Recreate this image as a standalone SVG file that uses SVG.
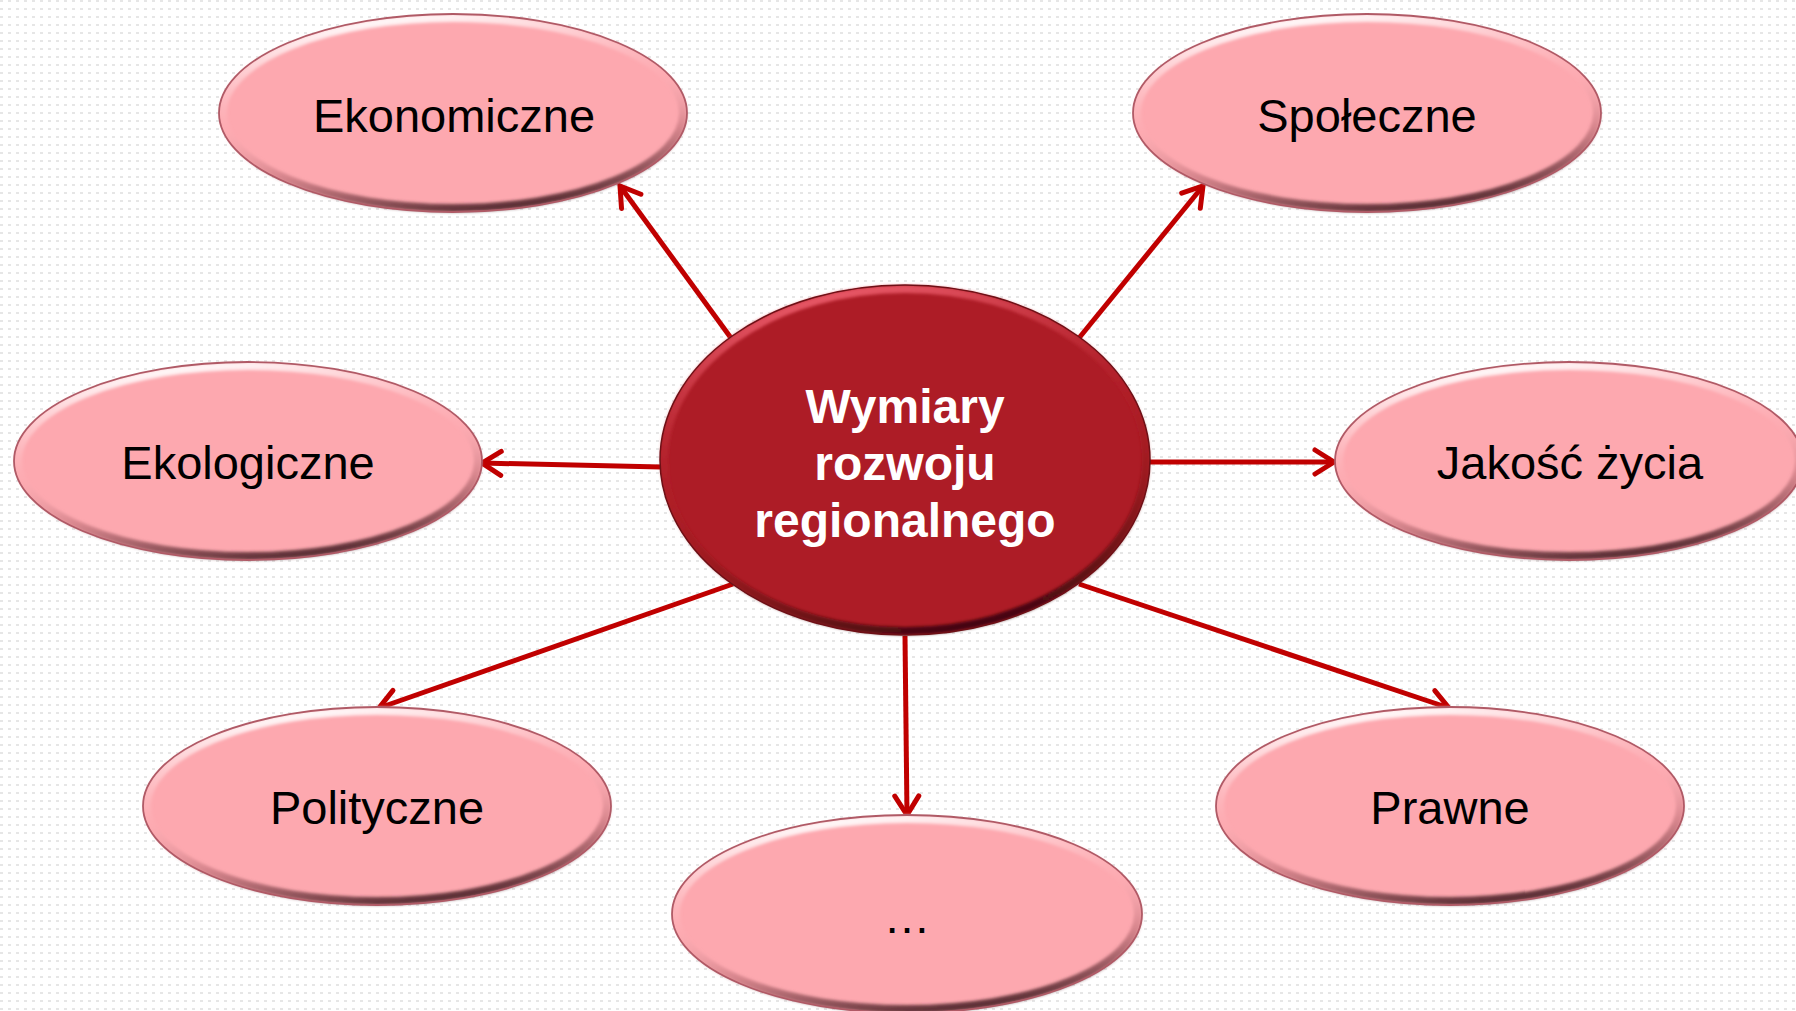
<svg xmlns="http://www.w3.org/2000/svg" width="1796" height="1011" viewBox="0 0 1796 1011">
<style>
.bg{fill:url(#dots)}
.pink{fill:#FDA8AF}
.pinkrim{fill:none;stroke:#B05A66;stroke-width:1.8}
.bevel{fill:none;stroke:url(#bev);stroke-width:8;filter:url(#soft)}
.core{fill:#AD1C26}
.corerim{fill:none;stroke:#6E1016;stroke-width:1.5}
.corebevel{fill:none;stroke:url(#bevCore);stroke-width:8;filter:url(#soft)}
.lbl{font-family:"Liberation Sans",Arial,sans-serif;font-size:47px;fill:#000;text-anchor:middle}
.clbl{font-family:"Liberation Sans",Arial,sans-serif;font-size:48px;font-weight:bold;fill:#fff;text-anchor:middle}
.conn{stroke:#C00000;stroke-width:5;fill:none;marker-end:url(#arr)}
</style>
<defs>
<pattern id="dots" width="8" height="8" patternUnits="userSpaceOnUse">
<rect x="0" y="0" width="3" height="2" fill="#E6E6E6"/>
</pattern>
<linearGradient id="bev" x1="0.35" y1="0" x2="0.65" y2="1">
<stop offset="0" stop-color="#FFFFFF" stop-opacity="0.95"/>
<stop offset="0.45" stop-color="#FDB5BB" stop-opacity="0.2"/>
<stop offset="0.7" stop-color="#C07078" stop-opacity="0.6"/>
<stop offset="1" stop-color="#4A2228" stop-opacity="0.95"/>
</linearGradient>
<linearGradient id="bevCore" x1="0.35" y1="0" x2="0.65" y2="1">
<stop offset="0" stop-color="#F06070" stop-opacity="0.9"/>
<stop offset="0.45" stop-color="#B8222C" stop-opacity="0.2"/>
<stop offset="0.7" stop-color="#801018" stop-opacity="0.5"/>
<stop offset="1" stop-color="#300608" stop-opacity="0.9"/>
</linearGradient>
<filter id="soft" x="-5%" y="-5%" width="110%" height="110%">
<feGaussianBlur stdDeviation="1.6"/>
</filter>
<marker id="arr" markerUnits="userSpaceOnUse" markerWidth="34" markerHeight="34" refX="23" refY="14" orient="auto" viewBox="0 0 34 28">
<path d="M4,2 L23,14 L4,26" fill="none" stroke="#C00000" stroke-width="5" stroke-linecap="round" stroke-linejoin="miter"/>
</marker>
</defs>
<rect class="bg" x="0" y="0" width="1796" height="1011"/>
<g id="connectors">
<line class="conn" x1="731" y1="338" x2="620" y2="186"/>
<line class="conn" x1="1079" y1="338" x2="1203" y2="186"/>
<line class="conn" x1="661" y1="467" x2="482" y2="463"/>
<line class="conn" x1="1149" y1="462" x2="1334" y2="462"/>
<line class="conn" x1="733" y1="584" x2="379" y2="708"/>
<line class="conn" x1="905" y1="636" x2="907" y2="815"/>
<line class="conn" x1="1079" y1="584" x2="1449" y2="708"/>
</g>
<g id="node-ekonomiczne">
<ellipse class="pink" cx="453" cy="113" rx="234" ry="99"/>
<ellipse class="bevel" cx="453" cy="113" rx="230" ry="95"/>
<ellipse class="pinkrim" cx="453" cy="113" rx="234" ry="99"/>
<text class="lbl" x="454" y="132">Ekonomiczne</text>
</g>
<g id="node-spoleczne">
<ellipse class="pink" cx="1367" cy="113" rx="234" ry="99"/>
<ellipse class="bevel" cx="1367" cy="113" rx="230" ry="95"/>
<ellipse class="pinkrim" cx="1367" cy="113" rx="234" ry="99"/>
<text class="lbl" x="1367" y="132">Społeczne</text>
</g>
<g id="node-ekologiczne">
<ellipse class="pink" cx="248" cy="461" rx="234" ry="99"/>
<ellipse class="bevel" cx="248" cy="461" rx="230" ry="95"/>
<ellipse class="pinkrim" cx="248" cy="461" rx="234" ry="99"/>
<text class="lbl" x="248" y="479">Ekologiczne</text>
</g>
<g id="node-jakosc">
<ellipse class="pink" cx="1569" cy="461" rx="234" ry="99"/>
<ellipse class="bevel" cx="1569" cy="461" rx="230" ry="95"/>
<ellipse class="pinkrim" cx="1569" cy="461" rx="234" ry="99"/>
<text class="lbl" x="1570" y="479">Jakość życia</text>
</g>
<g id="node-polityczne">
<ellipse class="pink" cx="377" cy="806" rx="234" ry="99"/>
<ellipse class="bevel" cx="377" cy="806" rx="230" ry="95"/>
<ellipse class="pinkrim" cx="377" cy="806" rx="234" ry="99"/>
<text class="lbl" x="377" y="824">Polityczne</text>
</g>
<g id="node-prawne">
<ellipse class="pink" cx="1450" cy="806" rx="234" ry="99"/>
<ellipse class="bevel" cx="1450" cy="806" rx="230" ry="95"/>
<ellipse class="pinkrim" cx="1450" cy="806" rx="234" ry="99"/>
<text class="lbl" x="1450" y="824">Prawne</text>
</g>
<g id="node-more">
<ellipse class="pink" cx="907" cy="914" rx="235" ry="99"/>
<ellipse class="bevel" cx="907" cy="914" rx="231" ry="95"/>
<ellipse class="pinkrim" cx="907" cy="914" rx="235" ry="99"/>
<text class="lbl" x="907" y="933">…</text>
</g>
<g id="node-center">
<ellipse class="core" cx="905" cy="460" rx="245" ry="175"/>
<ellipse class="corebevel" cx="905" cy="460" rx="241" ry="171"/>
<ellipse class="corerim" cx="905" cy="460" rx="245" ry="175"/>
<text class="clbl" x="905" y="423">Wymiary</text>
<text class="clbl" x="905" y="480">rozwoju</text>
<text class="clbl" x="905" y="537">regionalnego</text>
</g>
</svg>
